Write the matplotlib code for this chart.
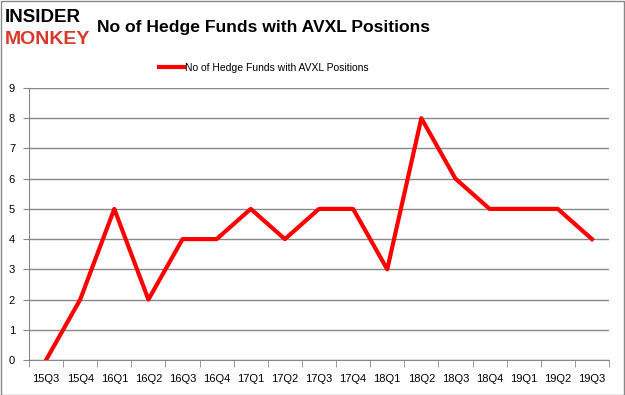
import matplotlib.pyplot as plt
from matplotlib.patches import Rectangle

quarters = ["15Q3", "15Q4", "16Q1", "16Q2", "16Q3", "16Q4", "17Q1", "17Q2", "17Q3",
            "17Q4", "18Q1", "18Q2", "18Q3", "18Q4", "19Q1", "19Q2", "19Q3"]
hedge_funds = [0, 2, 5, 2, 4, 4, 5, 4, 5, 5, 3, 8, 6, 5, 5, 5, 4]
series_label = "No of Hedge Funds with AVXL Positions"

plt.rcParams["font.family"] = ["Liberation Sans", "DejaVu Sans"]

fig = plt.figure(figsize=(6.25, 3.95), dpi=100)
ax = fig.add_axes([0.0464, 0.0886, 0.928, 0.6886])

x = range(len(quarters))
ax.plot(x, hedge_funds, color="#ff0000", linewidth=3, label=series_label)

ax.set_xlim(-0.5, len(quarters) - 0.5)
ax.set_ylim(0, 9)
ax.set_yticks(range(10))
ax.set_xticks(list(x))
ax.set_xticklabels(quarters, fontsize=8)
ax.set_xticks([i - 0.5 for i in range(len(quarters) + 1)], minor=True)
ax.tick_params(axis="x", which="major", length=0, pad=10)
ax.tick_params(axis="x", which="minor", length=5, color="#888888")
ax.tick_params(axis="y", length=4, color="#888888", labelsize=8, pad=6)
ax.grid(axis="y", color="#888888", linewidth=1)
ax.set_axisbelow(True)
for side in ["top", "right"]:
    ax.spines[side].set_visible(False)
for side in ["left", "bottom"]:
    ax.spines[side].set_color("#888888")

ax.legend(loc="lower center", bbox_to_anchor=(0.405, 1.04), frameon=False, fontsize=7.5,
          handlelength=2.4, handletextpad=0.1, borderaxespad=0)

fig.text(0.155, 0.93, "No of Hedge Funds with AVXL Positions", fontsize=12.6,
         fontweight="bold", va="center", ha="left")
fig.text(0.008, 0.955, "INSIDER", fontsize=13.5, fontweight="bold", color="black",
         va="center", ha="left")
fig.text(0.008, 0.9, "MONKEY", fontsize=14, fontweight="bold", color="#d9392b",
         va="center", ha="left")

fig.patches.append(Rectangle((0.001, 0.001), 0.997, 0.997, transform=fig.transFigure,
                             fill=False, edgecolor="#888888", linewidth=1))

fig.savefig("out.png", dpi=100)
